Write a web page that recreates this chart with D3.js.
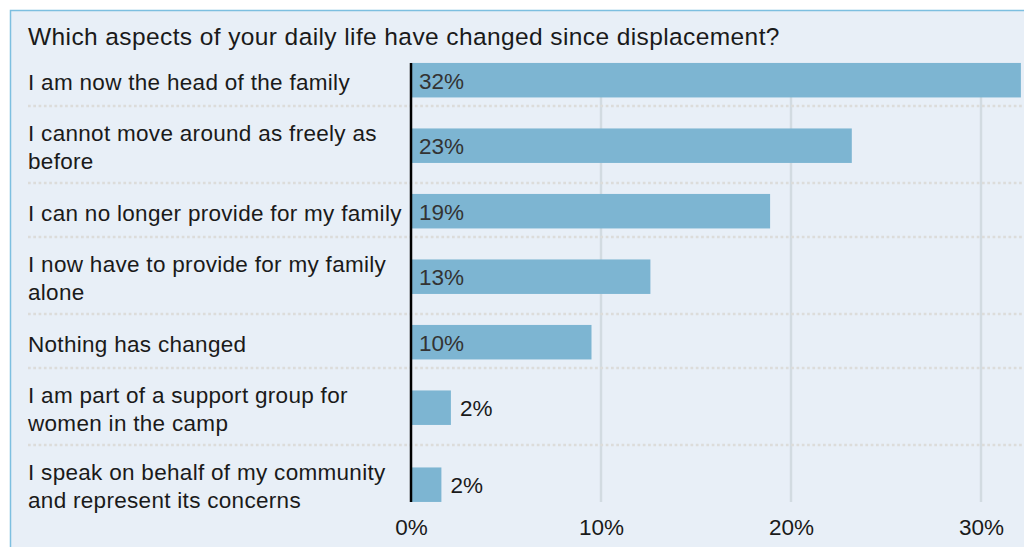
<!DOCTYPE html>
<html>
<head>
<meta charset="utf-8">
<script src="https://cdn.jsdelivr.net/npm/d3@7"></script>
<style>
  html, body { margin: 0; padding: 0; background: #ffffff; }
  svg { display: block; }
  text { font-family: "Liberation Sans", Arial, sans-serif; }
</style>
</head>
<body>
<svg id="chart" width="1024" height="547"></svg>
<script>
// Survey responses: share of respondents (%)
const title = "Which aspects of your daily life have changed since displacement?";
const categories = [
  ["I am now the head of the family"],
  ["I cannot move around as freely as", "before"],
  ["I can no longer provide for my family"],
  ["I now have to provide for my family", "alone"],
  ["Nothing has changed"],
  ["I am part of a support group for", "women in the camp"],
  ["I speak on behalf of my community", "and represent its concerns"]
];
const values = [32.1, 23.2, 18.9, 12.6, 9.5, 2.1, 1.6];
const tickValues = [0, 10, 20, 30];
const tickLabels = ["0%", "10%", "20%", "30%"];

const svg = d3.select("#chart");
const W = 1024, H = 547;

// panel
svg.append("rect")
  .attr("x", 10.5).attr("y", 10.5)
  .attr("width", W + 10).attr("height", H + 10)
  .attr("fill", "#e8eff7")
  .attr("stroke", "#7dbfe0").attr("stroke-width", 1.5);

svg.append("text")
  .attr("x", 28).attr("y", 45)
  .attr("font-size", 24.5)
  .attr("letter-spacing", 0.4)
  .attr("fill", "#1a1a1a")
  .text(title);

// row bands: height depends on the number of label lines
const oneLine = 54, twoLine = 77, top0 = 52;
const heights = categories.map(c => c.length > 1 ? twoLine : oneLine);
const tops = [top0, ...Array.from(d3.cumsum(heights), h => top0 + h)];
const keys = categories.map((c, i) => i);
const yTop = d3.scaleOrdinal(keys, tops.slice(0, -1));
const yH = d3.scaleOrdinal(keys, heights);
const barH = 34.5;
const barY = i => yTop(i) + (yH(i) - barH) / 2 + 1.2;

const x = d3.scaleLinear().domain([0, 30]).range([411, 981]);
const plotTop = barY(0), plotBottom = barY(keys.length - 1) + barH;

// vertical gridlines
svg.append("g").selectAll("line")
  .data(tickValues.slice(1))
  .join("line")
  .attr("x1", d => x(d)).attr("x2", d => x(d))
  .attr("y1", plotTop).attr("y2", plotBottom)
  .attr("stroke", "#d2dbe1").attr("stroke-width", 2.5);

// dotted row separators
svg.append("g").selectAll("line")
  .data(tops.slice(1, -1))
  .join("line")
  .attr("x1", 28).attr("x2", W)
  .attr("y1", d => d).attr("y2", d => d)
  .attr("stroke", "#dcdcda").attr("stroke-width", 2.6)
  .attr("stroke-dasharray", "2.7,2.6");

// bars
svg.append("g").selectAll("rect")
  .data(values)
  .join("rect")
  .attr("x", x(0))
  .attr("y", (d, i) => barY(i))
  .attr("width", d => x(d) - x(0))
  .attr("height", barH)
  .attr("fill", "#7db5d2");

// zero axis line
svg.append("line")
  .attr("x1", x(0)).attr("x2", x(0))
  .attr("y1", plotTop).attr("y2", plotBottom)
  .attr("stroke", "#000").attr("stroke-width", 2.5);

// category labels
const lineGap = 28.5, fs = 22.5;
const lab = svg.append("g").selectAll("text")
  .data(categories)
  .join("text")
  .attr("x", 28)
  .attr("font-size", fs)
  .attr("letter-spacing", 0.3)
  .attr("fill", "#1a1a1a")
  .attr("y", (c, i) => barY(i) + barH / 2 + 9.5 - (c.length - 1) * lineGap / 2);
lab.selectAll("tspan")
  .data(c => c)
  .join("tspan")
  .attr("x", 28)
  .attr("dy", (d, j) => j ? lineGap : 0)
  .text(d => d);

// value labels
const fmt = v => Math.round(v) + "%";
svg.append("g").selectAll("text")
  .data(values)
  .join("text")
  .attr("font-size", fs)
  .attr("x", d => d < 5 ? x(d) + 9 : x(0) + 8)
  .attr("y", (d, i) => barY(i) + barH / 2 + 8.5)
  .attr("fill", d => d < 5 ? "#1a1a1a" : "#333")
  .text(fmt);

// x axis tick labels
const axis = d3.axisBottom(x).tickValues(tickValues)
  .tickFormat((d, i) => tickLabels[i]).tickSize(0).tickPadding(0);
const ax = svg.append("g")
  .attr("transform", `translate(0,${plotBottom})`)
  .call(axis);
ax.select(".domain").remove();
ax.selectAll("text")
  .attr("font-size", fs)
  .attr("font-family", "Liberation Sans, Arial, sans-serif")
  .attr("fill", "#1a1a1a")
  .attr("dy", null)
  .attr("y", 33);
</script>
</body>
</html>
